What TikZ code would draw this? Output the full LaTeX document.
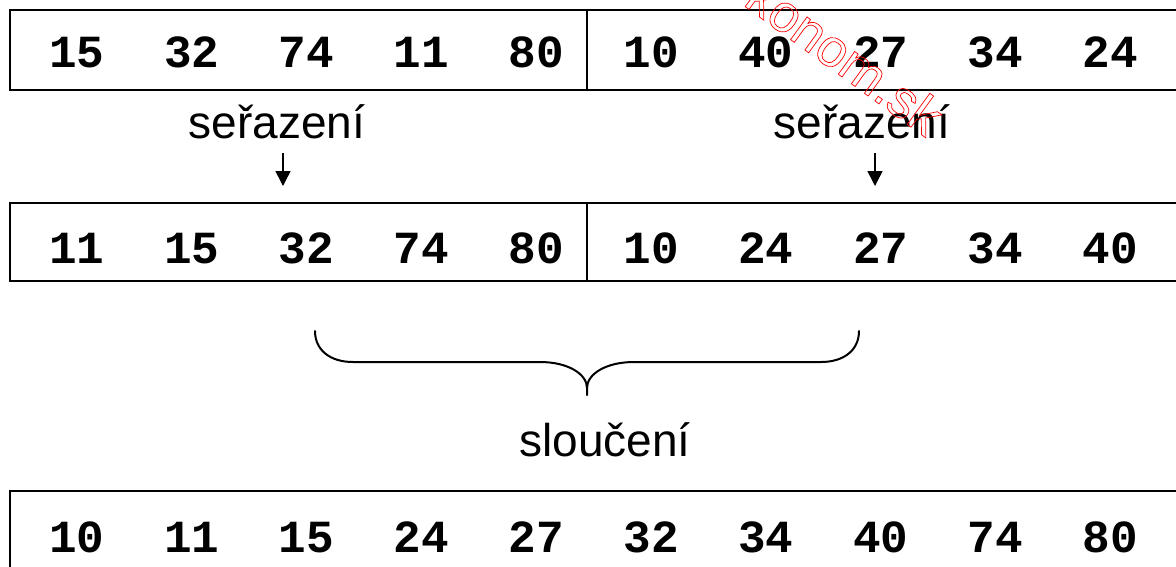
\documentclass[tikz,border=0pt]{standalone}
\usepackage{fontspec}
\setmainfont{Liberation Sans}
\newfontfamily\numfont{Liberation Mono}
\usetikzlibrary{arrows.meta}

% hollow lettering: stroke the glyph outlines instead of filling them
\newcommand{\hollowtext}[1]{%
  \special{pdf:literal direct 1 Tr 0.7 w}#1\special{pdf:literal direct 0 Tr}}

\tikzset{
  frame/.style={draw=black, line width=2pt},
  num/.style={font=\numfont\bfseries\fontsize{46}{46}\selectfont, anchor=base, inner sep=0pt},
  word/.style={font=\fontsize{46}{46}\selectfont, anchor=base, inner sep=0pt},
  down/.style={line width=1.5pt, -{Triangle[width=15pt,length=15pt]}},
  brace/.style={line width=2pt, line cap=round},
  stamp/.style={font=\fontsize{53}{53}\selectfont, text=red, anchor=base east, inner sep=0pt, rotate=-36}
}

\begin{document}
\begin{tikzpicture}[x=1pt,y=-1pt]
  \useasboundingbox (0,0) rectangle (1176,566);
  \clip (0,0) rectangle (1176,566);
  \fill[white] (0,0) rectangle (1176,566);

  % the three arrays
  \draw[frame] (10,10) rectangle (1200,90);
  \draw[frame] (587,10) -- (587,90);
  \draw[frame] (10,203) rectangle (1200,281);
  \draw[frame] (587,203) -- (587,281);
  \draw[frame] (10,491) rectangle (1200,620);

  % unsorted halves
  \foreach \v [count=\i] in {15,32,74,11,80,10,40,27,34,24}
    \node[num] (t\i) at ({77+114.8*(\i-1)},67) {\v};
  % sorted halves
  \foreach \v [count=\i] in {11,15,32,74,80,10,24,27,34,40}
    \node[num] (m\i) at ({77+114.8*(\i-1)},263) {\v};
  % merged result
  \foreach \v [count=\i] in {10,11,15,24,27,32,34,40,74,80}
    \node[num] (b\i) at ({77+114.8*(\i-1)},552) {\v};

  % sorting step
  \node[word] (sortL) at (277,138) {seřazení};
  \node[word] (sortR) at (862,138) {seřazení};
  \coordinate (aLs) at (283,153);
  \coordinate (aLe) at (283,186);
  \coordinate (aRs) at (875,153);
  \coordinate (aRe) at (875,186);
  \draw[down] (aLs) -- (aLe);
  \draw[down] (aRs) -- (aRe);

  % merging brace
  \draw[brace] (315,331) .. controls (315,350) and (330,362) .. (353,362)
    -- (540,362) .. controls (568,362) and (587,374) .. (587,388) -- (587,395);
  \draw[brace] (859,331) .. controls (859,350) and (844,362) .. (821,362)
    -- (634,362) .. controls (606,362) and (587,374) .. (587,388);
  \node[word] (merge) at (605,456) {sloučení};

  % hollow red stamp
  \node[stamp] (mark) at (926,138) {\hollowtext{ekonom.sk}};
\end{tikzpicture}
\end{document}
